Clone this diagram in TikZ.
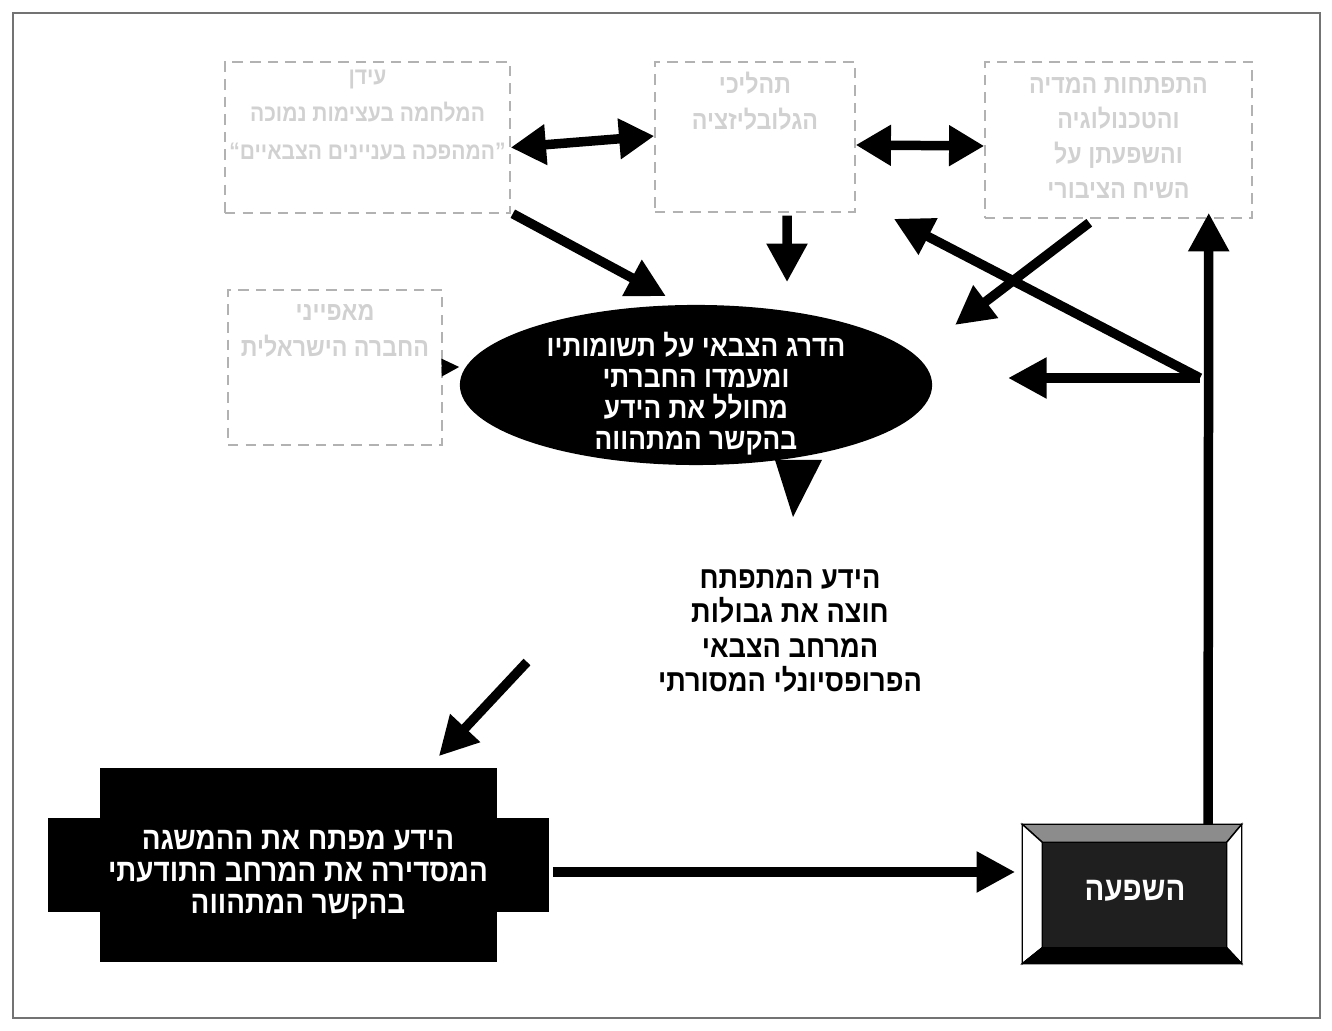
\documentclass[tikz,border=0pt]{standalone}
\usepackage{fontspec}
\newfontfamily\hebfont[Script=Hebrew, FakeStretch=0.88]{Liberation Sans}
\TeXXeTstate=1
\usetikzlibrary{arrows.meta}
\usetikzlibrary{shapes.geometric}
\newcommand{\heb}[1]{\beginR #1\endR}

\begin{document}
\begin{tikzpicture}[x=0.01cm, y=-0.01cm,
    bigarrow/.style={line width=2.7pt, -{Triangle[length=11pt, width=11pt]}},
    dblarrow/.style={line width=2.7pt, {Triangle[length=10pt, width=11pt]}-{Triangle[length=10pt, width=11pt]}},
    fadebox/.style={draw=black!30, densely dashed, line width=0.4pt, inner sep=0pt},
    fadetext/.style={font=\hebfont\bfseries\fontsize{7.5}{8}\selectfont, text=black!18, align=center},
    blackbox/.style={fill=black, inner sep=0pt},
    boldtext/.style={font=\hebfont\bfseries\fontsize{8.5}{8.8}\selectfont, align=center}]

  \useasboundingbox (0, 0) rectangle (1332, 1031);
  \draw [black!55, line width=0.8pt] (13, 13) rectangle (1320, 1018);

  % faded boxes on top
  \node [fadebox, minimum width=2.85cm, minimum height=1.51cm] (b1) at (367.5, 137.5) {};
  \node [fadetext, font=\hebfont\bfseries\fontsize{6.8}{8}\selectfont] at (367.5, 115) {\heb{עידן}\\[2.6pt]\heb{המלחמה בעצימות נמוכה}\\[2.6pt]\heb{”המהפכה בעניינים הצבאיים“}};
  \node [fadebox, minimum width=2.00cm, minimum height=1.50cm] (b2) at (755, 137) {};
  \node [fadetext] at (755, 101) {\heb{תהליכי}\\[2.2pt]\heb{הגלובליזציה}};
  \node [fadebox, minimum width=2.67cm, minimum height=1.56cm] (b3) at (1118.5, 140) {};
  \node [fadetext] at (1118.5, 138) {\heb{התפתחות המדיה}\\[2pt]\heb{והטכנולוגיה}\\[2pt]\heb{והשפעתן על}\\[2pt]\heb{השיח הציבורי}};
  \node [fadebox, minimum width=2.14cm, minimum height=1.55cm] (b4) at (335, 367.5) {};
  \node [fadetext] at (335, 331) {\heb{מאפייני}\\[2.2pt]\heb{החברה הישראלית}};

  % speech bubble
  \fill (775, 460) -- (822, 460) -- (793, 517) -- cycle;
  \node [ellipse, fill=black, minimum width=4.72cm, minimum height=1.60cm, inner sep=0pt] (ell) at (696, 385) {};
  \node [boldtext, text=white] at (696, 394) {\heb{הדרג הצבאי על תשומותיו}\\\heb{ומעמדו החברתי}\\\heb{מחולל את הידע}\\\heb{בהקשר המתהווה}};

  \node [boldtext, font=\hebfont\bfseries\fontsize{8.8}{9.7}\selectfont] (txt) at (790, 631) {\heb{הידע המתפתח}\\\heb{חוצה את גבולות}\\\heb{המרחב הצבאי}\\\heb{הפרופסיונלי המסורתי}};

  % black box
  \node [blackbox, minimum width=5.01cm, minimum height=0.94cm] (kside) at (298.5, 865) {};
  \node [blackbox, minimum width=3.97cm, minimum height=1.94cm] (kbox) at (298.5, 865) {};
  \node [boldtext, text=white, font=\hebfont\bfseries\fontsize{9}{9.1}\selectfont] at (298, 875) {\heb{הידע מפתח את ההמשגה}\\\heb{המסדירה את המרחב התודעתי}\\\heb{בהקשר המתהווה}};

  % bevelled box
  \node [draw, fill=black!88, minimum width=2.18cm, minimum height=1.38cm, inner sep=0pt] (shefa) at (1132, 894) {};
  \filldraw [fill=black!45] (shefa.north west) -- (shefa.north east) -- ([shift={(-15, 18)}]shefa.north east) -- ([shift={(20, 18)}]shefa.north west) -- cycle;
  \filldraw [fill=white] (shefa.north west) -- ([shift={(20, 18)}]shefa.north west) -- ([shift={(20, -16)}]shefa.south west) -- (shefa.south west) -- cycle;
  \filldraw [fill=white] (shefa.north east) -- ([shift={(-15, 18)}]shefa.north east) -- ([shift={(-15, -16)}]shefa.south east) -- (shefa.south east) -- cycle;
  \filldraw [fill=black] (shefa.south west) -- ([shift={(20, -16)}]shefa.south west) -- ([shift={(-15, -16)}]shefa.south east) -- (shefa.south east) -- cycle;
  \node [boldtext, text=white, font=\hebfont\bfseries\fontsize{9.5}{10}\selectfont] at (1135, 891) {\heb{השפעה}};

  % arrows
  \coordinate (fork) at (1200, 378);
  \coordinate (e3) at (955, 325);
  \coordinate (e4) at (1008, 378);
  \coordinate (s5) at (527, 662);

  \draw [dblarrow] ([yshift=-0.1cm]b1.east) -- ([yshift=0.01cm]b2.west);
  \draw [dblarrow] ([yshift=-0.08cm]b2.east) -- ([yshift=-0.06cm]b3.west);

  \draw [bigarrow] ([xshift=0.02cm]b1.south east) -- ([xshift=-0.3cm, yshift=0.08cm]ell.north);
  \draw [bigarrow] ([xshift=0.32cm, yshift=-0.03cm]b2.south) -- ([xshift=0.91cm, yshift=0.22cm]ell.north);
  \draw [bigarrow] ([xshift=1.05cm, yshift=-0.04cm]b3.south west) -- (e3);
  \draw [-{Triangle[length=5pt, width=5pt]}, line width=0.4pt] (b4.east) -- ([yshift=0.18cm]ell.west);

  \draw [bigarrow] ([xshift=0.76cm]shefa.north) -- ([xshift=-0.44cm, yshift=0.06cm]b3.south east);
  \draw [bigarrow] (fork) -- (e4);
  \draw [bigarrow] (fork) -- ([xshift=0.38cm, yshift=-0.06cm]b2.south east);

  \draw [bigarrow] (s5) -- ([xshift=-0.59cm, yshift=0.11cm]kbox.north east);
  \draw [bigarrow] ([xshift=0.03cm, yshift=-0.07cm]kside.east) -- ([xshift=-0.07cm, yshift=-0.07cm]kside.east -| shefa.west);

\end{tikzpicture}
\end{document}
